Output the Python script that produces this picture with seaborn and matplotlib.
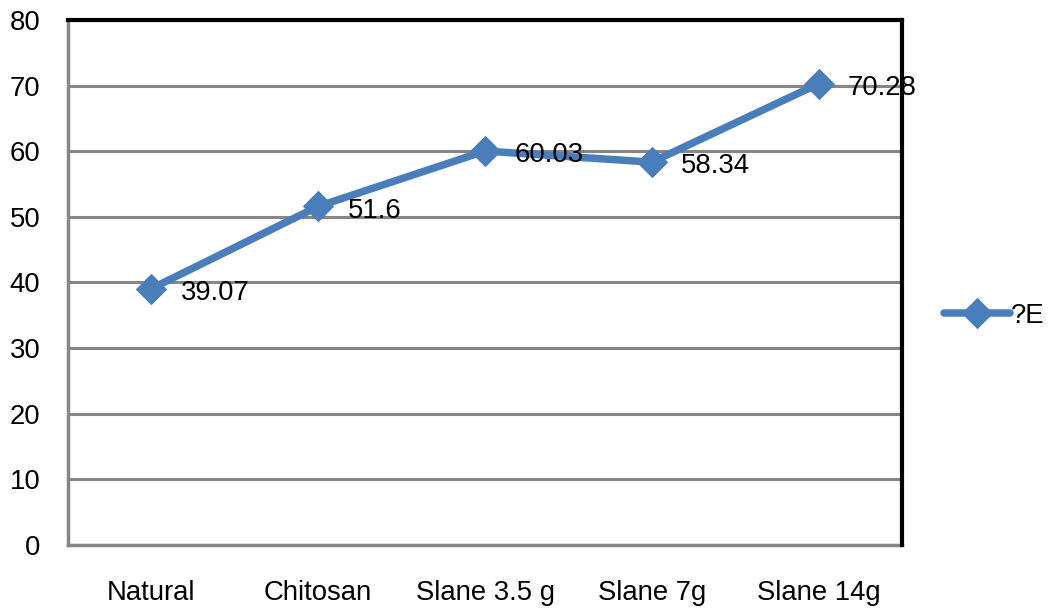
import matplotlib
matplotlib.use("Agg")
import matplotlib.pyplot as plt
import seaborn as sns
import pandas as pd

categories = ["Natural", "Chitosan", "Slane 3.5 g", "Slane 7g", "Slane 14g"]
values = [39.07, 51.6, 60.03, 58.34, 70.28]
value_labels = ["39.07", "51.6", "60.03", "58.34", "70.28"]
series_name = "?E"
y_ticks = [0, 10, 20, 30, 40, 50, 60, 70, 80]

sns.set_style("white")
plt.rcParams["font.family"] = ["Liberation Sans", "DejaVu Sans"]

df = pd.DataFrame({"cat": categories, "val": values, "x": range(len(categories))})

fig = plt.figure(figsize=(10.53, 6.10), dpi=100)
ax = fig.add_axes([0.0646, 0.1066, 0.7920, 0.8606])

line_color = "#4a7ebb"
fs = 19.8
sns.lineplot(data=df, x="x", y="val", ax=ax, color=line_color, linewidth=5.4,
             marker="D", markersize=15, markeredgecolor=line_color,
             label=series_name, zorder=3)

for xi, v, lab in zip(df["x"], values, value_labels):
    ax.annotate(lab, (xi, v), xytext=(21, -3), textcoords="offset points",
                ha="left", va="center", fontsize=fs, color="black", zorder=4,
                annotation_clip=False)

ax.set_xlim(-0.5, len(categories) - 0.5)
ax.set_ylim(0, 80)
ax.set_yticks(y_ticks)
ax.set_xticks(range(len(categories)))
ax.set_xticklabels(categories)
ax.yaxis.grid(True, color="#868686", linewidth=2.2)
ax.set_axisbelow(True)
ax.set_xlabel("")
ax.set_ylabel("")
ax.tick_params(axis="both", length=0, labelsize=fs, colors="black")
ax.tick_params(axis="y", pad=20)
ax.tick_params(axis="x", pad=25)

for side in ["left", "bottom"]:
    ax.spines[side].set_color("#868686")
    ax.spines[side].set_linewidth(2.5)
for side in ["top", "right"]:
    ax.spines[side].set_color("black")
    ax.spines[side].set_linewidth(3)
    ax.spines[side].set_visible(True)
    ax.spines[side].set_zorder(5)

leg = ax.legend(loc="center left", bbox_to_anchor=(1.05, 0.436), frameon=False,
                fontsize=fs, handlelength=2.4, handletextpad=0.05,
                borderaxespad=0, borderpad=0, labelcolor="black")

fig.savefig("out.png", dpi=100)
